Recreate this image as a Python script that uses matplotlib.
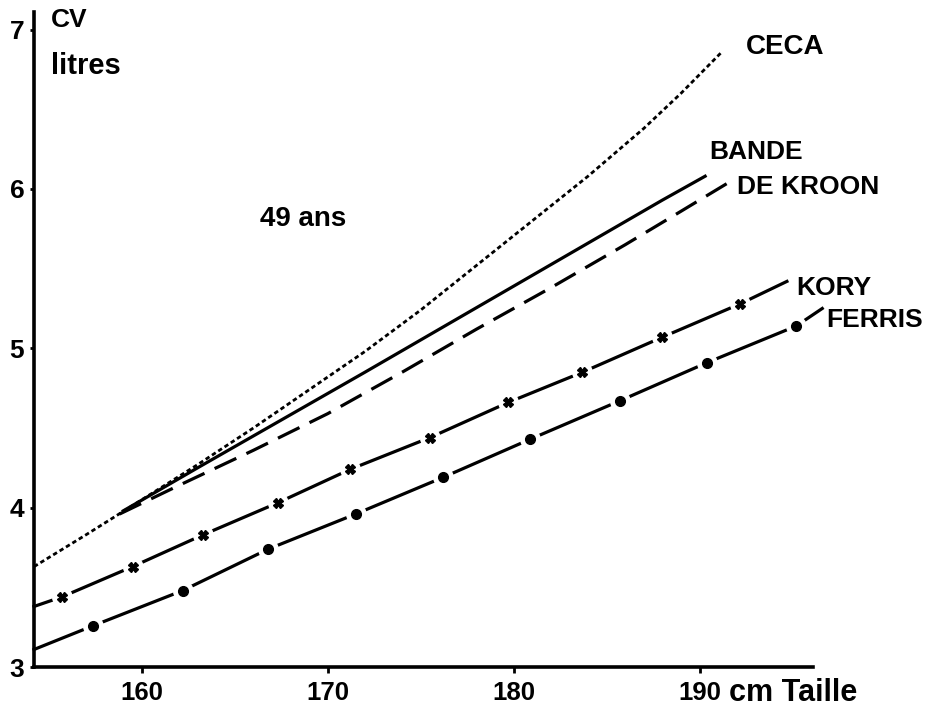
import matplotlib
matplotlib.use("Agg")
import matplotlib.pyplot as plt

# ── data (Taille in cm, CV in litres) ──
ceca_x = [154.2, 157, 160, 163, 166, 169, 172, 175, 178, 181, 184, 187, 189, 191.2]
ceca_y = [3.63, 3.83, 4.05, 4.27, 4.50, 4.74, 4.98, 5.24, 5.52, 5.80, 6.08, 6.38, 6.60, 6.86]

bande_x = [159, 163, 166, 169, 172, 176, 180, 184, 188, 190.3]
bande_y = [3.98, 4.25, 4.45, 4.65, 4.85, 5.12, 5.39, 5.66, 5.93, 6.08]

kroon_x = [158.8, 162, 166, 170, 174, 178, 182, 186, 189, 191.7]
kroon_y = [3.96, 4.14, 4.36, 4.59, 4.85, 5.12, 5.38, 5.65, 5.86, 6.05]

kory_x = [154.2, 155.7, 159.5, 163.3, 167.3, 171.2, 175.5, 179.7, 183.7, 188.0, 192.2, 194.7]
kory_y = [3.38, 3.44, 3.63, 3.83, 4.03, 4.24, 4.44, 4.66, 4.85, 5.07, 5.28, 5.42]

ferris_x = [154.2, 157.4, 162.2, 166.8, 171.5, 176.2, 180.9, 185.7, 190.4, 195.2, 196.6]
ferris_y = [3.11, 3.26, 3.48, 3.74, 3.96, 4.19, 4.43, 4.67, 4.91, 5.14, 5.25]

x_ticks = [160, 170, 180, 190]
y_ticks = [3, 4, 5, 6, 7]

plt.rcParams["font.family"] = ["Liberation Sans", "DejaVu Sans"]
plt.rcParams["font.weight"] = "bold"

fig = plt.figure(figsize=(9.34, 7.15), dpi=100)
ax = fig.add_axes([0.0364, 0.0671, 0.8340, 0.9160])
ax.set_xlim(154.2, 196.1)
ax.set_ylim(3, 7.11)

LW = 2.3
ax.plot(ceca_x, ceca_y, color="black", lw=2.0, dashes=(1.6, 1.1), clip_on=False)
ax.plot(bande_x, bande_y, color="black", lw=LW, clip_on=False)
ax.plot(kroon_x, kroon_y, color="black", lw=LW, dashes=(7.5, 3.5), clip_on=False)

# KORY: segments broken around x markers
ax.plot(kory_x, kory_y, color="black", lw=LW, clip_on=False, zorder=2)
ax.plot(kory_x[1:-1], kory_y[1:-1], "o", ms=14, color="white", mec="white", zorder=3)
ax.plot(kory_x[1:-1], kory_y[1:-1], "X", ms=7, color="black", zorder=4)

# FERRIS: segments broken around dot markers
ax.plot(ferris_x, ferris_y, color="black", lw=LW, clip_on=False, zorder=2)
ax.plot(ferris_x[1:-1], ferris_y[1:-1], "o", ms=14, color="white", mec="white", zorder=3,
        clip_on=False)
ax.plot(ferris_x[1:-1], ferris_y[1:-1], "o", ms=7, color="black", zorder=4, clip_on=False)

# axes styling
for s in ["top", "right"]:
    ax.spines[s].set_visible(False)
for s in ["left", "bottom"]:
    ax.spines[s].set_linewidth(2.6)
ax.set_xticks(x_ticks)
ax.set_xticklabels([str(t) for t in x_ticks])
ax.set_yticks(y_ticks)
ax.set_yticklabels([str(t) for t in y_ticks])
ax.tick_params(axis="x", direction="out", length=4, width=2, pad=6, labelsize=18.5)
ax.tick_params(axis="y", direction="out", length=3, width=2, pad=4, labelsize=19)

# labels
ax.text(155.1, 7.06, "CV", fontsize=19, va="center", ha="left")
ax.text(155.1, 6.77, "litres", fontsize=21, va="center", ha="left")
ax.annotate("cm Taille", xy=(191.6, 3), xycoords="data", xytext=(0, -19),
            textcoords="offset points", fontsize=22, ha="left", va="center",
            annotation_clip=False)
ax.text(168.7, 5.81, "49 ans", fontsize=20, ha="center", va="center")

ax.text(192.5, 6.89, "CECA", fontsize=20, ha="left", va="center")
ax.text(190.5, 6.23, "BANDE", fontsize=19, ha="left", va="center")
ax.text(192.0, 6.01, "DE KROON", fontsize=19, ha="left", va="center")
ax.text(195.2, 5.38, "KORY", fontsize=19, ha="left", va="center")
ax.text(196.8, 5.18, "FERRIS", fontsize=19, ha="left", va="center")

fig.savefig("out.png", dpi=100)
